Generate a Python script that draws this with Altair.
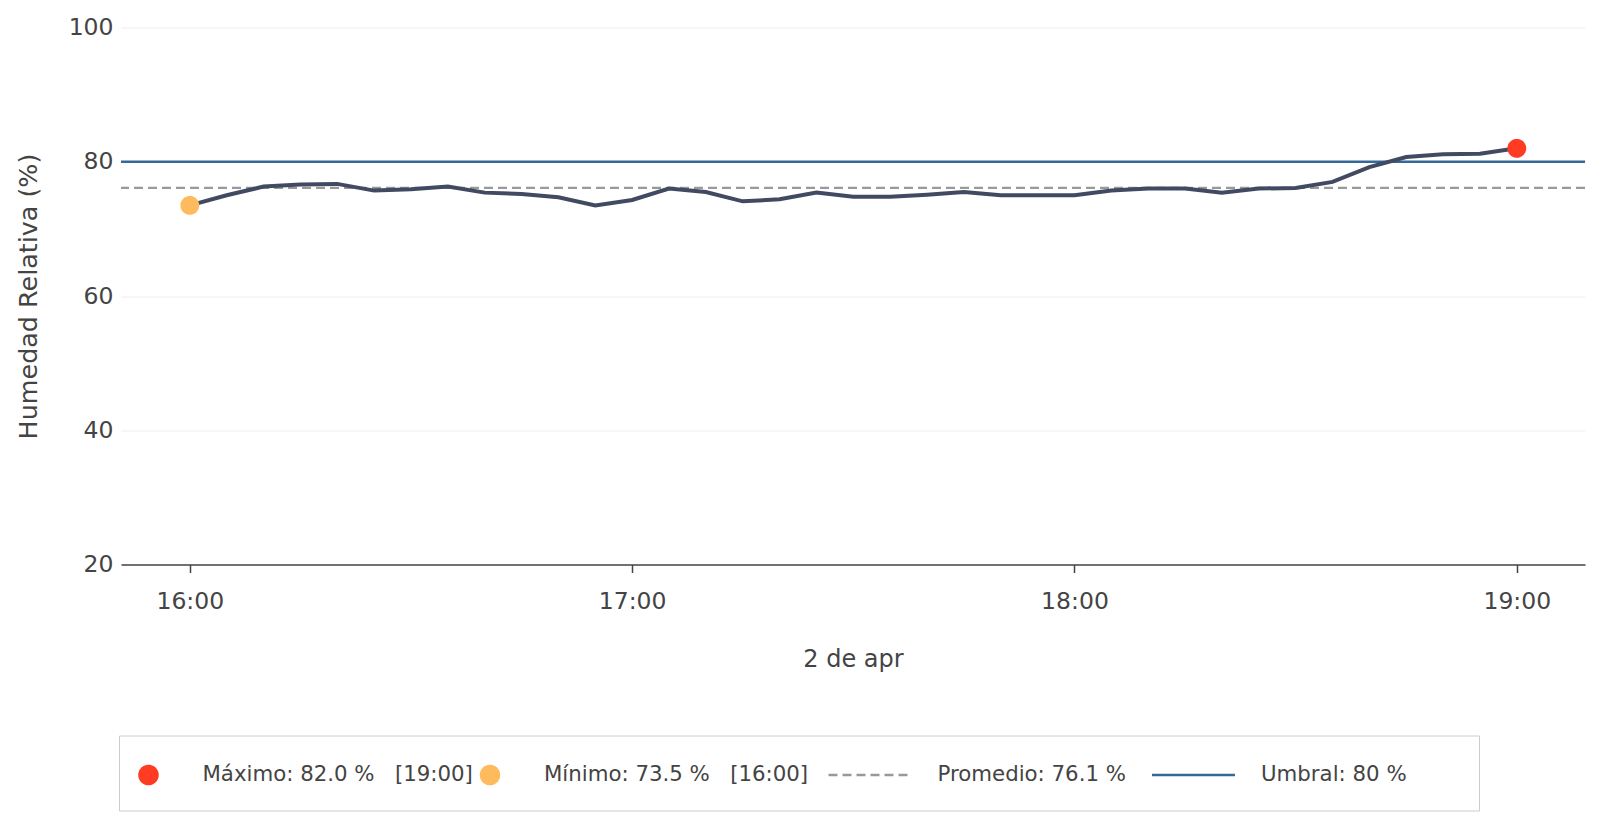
import altair as alt
import numpy as np
import pandas as pd

# ---------------- data ----------------
fecha = "2024-04-02"
horas = ["16:00", "16:05", "16:10", "16:15", "16:20", "16:25", "16:30", "16:35",
         "16:40", "16:45", "16:50", "16:55", "17:00", "17:05", "17:10", "17:15",
         "17:20", "17:25", "17:30", "17:35", "17:40", "17:45", "17:50", "17:55",
         "18:00", "18:05", "18:10", "18:15", "18:20", "18:25", "18:30", "18:35",
         "18:40", "18:45", "18:50", "18:55", "19:00"]
humedad = [73.5, 75.0, 76.3, 76.6, 76.7, 75.7, 75.9, 76.3,
           75.4, 75.2, 74.7, 73.5, 74.3, 76.0, 75.5, 74.1,
           74.4, 75.4, 74.8, 74.8, 75.1, 75.5, 75.0, 75.0,
           75.0, 75.7, 76.0, 76.0, 75.4, 76.0, 76.1, 77.0,
           79.2, 80.7, 81.1, 81.2, 82.0]
umbral = 80
y_ticks = [20, 40, 60, 80, 100]
x_ticks_h = [16, 17, 18, 19]
x_title = "2 de apr"
y_title = "Humedad Relativa (%)"

df = pd.DataFrame({"hora": [f"{fecha}T{h}:00" for h in horas], "humedad": humedad})

imax = int(np.argmax(humedad))
imin = int(np.argmin(humedad))
media = float(np.mean(humedad))
nb = "\u00a0"
lab_max = f"Máximo: {humedad[imax]:.1f} %{nb*3}[{horas[imax]}]"
lab_min = f"Mínimo: {humedad[imin]:.1f} %{nb*3}[{horas[imin]}]"
lab_media = f"Promedio: {media:.1f} %"
lab_umbral = f"Umbral: {umbral} %"
series = [lab_max, lab_min, lab_media, lab_umbral]

C_MAX, C_MIN, C_MEDIA, C_UMBRAL, C_LINEA = "#ff3c22", "#fdbb5d", "#999999", "#35689a", "#424a62"
colores = [C_MAX, C_MIN, C_MEDIA, C_UMBRAL]

puntos = pd.DataFrame({
    "hora": [df["hora"][imax], df["hora"][imin]],
    "humedad": [humedad[imax], humedad[imin]],
    "serie": [lab_max, lab_min],
})
df_umbral = pd.DataFrame({"humedad": [umbral]})
df_media = pd.DataFrame({"humedad": [media]})

FONT = "DejaVu Sans"
TXT = "#444444"

def dt(h, m=0, s=0):
    return alt.DateTime(year=2024, month=4, date=2, hours=h, minutes=m, seconds=s)

x_scale = alt.Scale(domain=[dt(15, 50, 40), dt(19, 9, 15)])
y_scale = alt.Scale(domain=[20, 100], nice=False, zero=False)

x_axis = alt.Axis(
    title=x_title, values=[dt(h) for h in x_ticks_h], format="%H:%M",
    grid=False, domainColor=TXT, domainWidth=1.5, tickColor=TXT, tickWidth=1.5,
    tickSize=8, labelPadding=17, labelFont=FONT, labelFontSize=23.5, labelColor=TXT,
    titleFont=FONT, titleFontSize=24, titleFontWeight="normal", titleColor=TXT,
    titlePadding=34,
)
y_axis = alt.Axis(
    title=y_title, values=y_ticks, grid=True, gridColor="#eeeeee", gridWidth=1,
    domain=False, ticks=False, labelPadding=8, labelFont=FONT, labelFontSize=23.5,
    labelColor=TXT, titleFont=FONT, titleFontSize=25.4, titleFontWeight="normal",
    titleColor=TXT, titlePadding=26.5,
)

X = alt.X("hora:T", scale=x_scale, axis=x_axis)
Y = alt.Y("humedad:Q", scale=y_scale, axis=y_axis)

# legend / point symbol shapes (unit square -1..1, 10 px per unit in the legend)
def ring(r):
    return f"M {-r} 0 A {r} {r} 0 1 0 {r} 0 A {r} {r} 0 1 0 {-r} 0 "

def hueco(x, y):
    # zero-length segment: draws nothing, only extends the symbol bounds
    return f"M {x} {y} L {x} {y} "

ALTO = hueco(0, 1.25)
DISCO = "".join(ring(r) for r in (0.1, 0.3, 0.5, 0.7, 0.9))
TRAZO = "M -5.5 0 L 2.8 0 "
formas = [
    ALTO + DISCO,
    ALTO + DISCO + hueco(32.5, 0),
    ALTO + TRAZO + hueco(25.5, 0),
    ALTO + TRAZO + hueco(24.9, 0),
]
guiones = [[1, 0], [1, 0], [9, 5], [1, 0]]

leyenda = alt.Legend(
    title=nb, titleFontSize=1, titlePadding=9, orient="none", legendX=-2, legendY=708,
    direction="horizontal",
    labelFont=FONT, labelFontSize=21.3, labelColor=TXT, labelLimit=700,
    labelOffset=42.5, symbolSize=400, symbolStrokeWidth=2.5, symbolOpacity=1,
    symbolFillColor="transparent",
    columnPadding=2.5, padding=18, strokeColor="#cccccc", fillColor="white",
)

regla_media = alt.Chart(df_media).mark_rule(
    color=C_MEDIA, strokeWidth=2.3, strokeDash=[9, 5]).encode(y=Y)
regla_umbral = alt.Chart(df_umbral).mark_rule(
    color=C_UMBRAL, strokeWidth=2.5).encode(y=Y)
linea = alt.Chart(df).mark_line(color=C_LINEA, strokeWidth=4).encode(x=X, y=Y)
extremos = alt.Chart(puntos).mark_point(
    size=330, filled=False, opacity=1, strokeWidth=2.5, fill="transparent").encode(
    x=X, y=Y,
    color=alt.Color("serie:N", scale=alt.Scale(domain=series, range=colores), legend=leyenda),
    shape=alt.Shape("serie:N", scale=alt.Scale(domain=series, range=formas), legend=leyenda),
    strokeDash=alt.StrokeDash("serie:N", scale=alt.Scale(domain=series, range=guiones), legend=leyenda),
)

chart = alt.layer(regla_media, regla_umbral, linea, extremos).properties(
    width=1464, height=537,
    padding={"left": 113, "top": 19.5, "right": 8, "bottom": 252},
    autosize=alt.AutoSizeParams(type="none"),
    background="white",
).configure_view(stroke=None)

chart.save("out.html", embed_options={"renderer": "svg", "actions": False})
